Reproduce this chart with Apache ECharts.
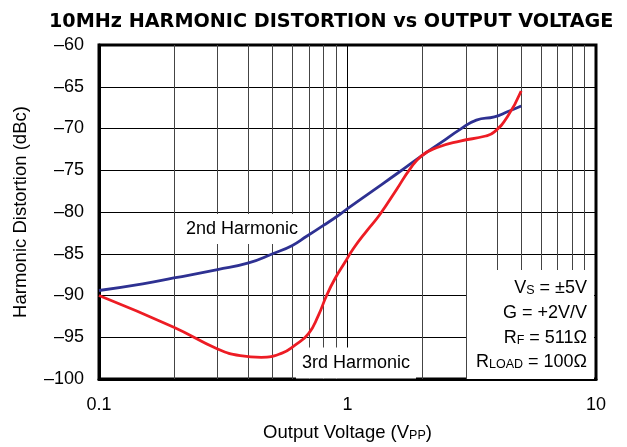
<!DOCTYPE html>
<html>
<head>
<meta charset="utf-8">
<script src="https://cdn.jsdelivr.net/npm/echarts@6/dist/echarts.min.js"></script>
<style>
  html, body { margin: 0; padding: 0; background: #fff; }
  #main { width: 627px; height: 447px; }
</style>
</head>
<body>
<div id="main"></div>
<script>
var font = 'Liberation Sans, Arial, sans-serif';

// output voltage (Vpp) / distortion (dBc)
var h2Volts = [0.1, 0.15, 0.2, 0.3, 0.4, 0.5, 0.6, 0.685, 0.8, 0.9, 1.0, 1.23, 1.6, 1.98, 2.4, 2.84, 3.3, 3.9, 4.4, 5.0];
var h2Dbc   = [-89.4, -88.6, -87.9, -86.9, -86.1, -85.0, -84.0, -82.9, -81.6, -80.6, -79.6, -77.7, -75.3, -73.3, -71.6, -70.1, -69.0, -68.6, -68.0, -67.3];

var h3Volts = [0.1, 0.2, 0.3, 0.37, 0.45, 0.545, 0.615, 0.697, 0.763, 0.824, 0.89, 0.978, 1.055, 1.2, 1.35, 1.576, 1.78, 1.98, 2.28, 2.84, 3.6, 3.9, 4.4, 5.0];
var h3Dbc   = [-90.0, -93.8, -96.4, -97.2, -97.4, -96.9, -95.95, -94.56, -92.4, -90.0, -88.0, -86.0, -84.4, -82.2, -80.3, -77.3, -74.9, -73.3, -72.3, -71.5, -70.9, -70.4, -68.6, -65.5];

// vertical log grid lines
var xGrid = [0.2, 0.3, 0.4, 0.5, 0.6, 0.7, 0.8, 0.9, 2, 3, 4, 5, 6, 7, 8, 9];

function pairs(xs, ys) {
    var out = [];
    for (var i = 0; i < xs.length; i++) out.push([xs[i], ys[i]]);
    return out;
}

var myChart = echarts.init(document.getElementById('main'));

var option = {
    animation: false,
    backgroundColor: '#fff',
    title: {
        text: '10MHz HARMONIC DISTORTION vs OUTPUT VOLTAGE',
        left: 44,
        top: 8,
        textStyle: { fontFamily: 'DejaVu Sans, sans-serif', fontWeight: 'bold', fontSize: 19.2, color: '#000' }
    },
    grid: {
        left: 99, right: 31, top: 45, bottom: 66,
        show: true, borderColor: '#000', borderWidth: 3
    },
    xAxis: {
        type: 'log',
        logBase: 10,
        min: 0.1,
        max: 10,
        name: '{a|Output Voltage (V}{s|PP}{a|)}',
        nameLocation: 'middle',
        nameGap: 41,
        nameTextStyle: {
            rich: {
                a: { fontFamily: font, fontSize: 18.5, color: '#000', lineHeight: 22, verticalAlign: 'bottom' },
                s: { fontFamily: font, fontSize: 12.5, color: '#000', lineHeight: 13, verticalAlign: 'bottom' }
            }
        },
        axisLine: { show: true, lineStyle: { color: '#000', width: 3 } },
        axisTick: { show: false },
        axisLabel: {
            fontFamily: font, fontSize: 18, color: '#000', margin: 17,
            formatter: function (v) { return String(v); }
        },
        splitLine: { show: true, lineStyle: { color: '#000', width: 1 } }
    },
    yAxis: {
        type: 'value',
        min: -100,
        max: -60,
        interval: 5,
        name: 'Harmonic Distortion (dBc)',
        nameLocation: 'middle',
        nameGap: 69,
        nameTextStyle: { fontFamily: font, fontSize: 18.5, color: '#000' },
        axisLine: { show: true, lineStyle: { color: '#000', width: 3 } },
        axisTick: { show: false },
        axisLabel: {
            fontFamily: font, fontSize: 18, color: '#000', margin: 15,
            formatter: function (v) { return String(v).replace('-', '\u2013'); }
        },
        splitLine: { show: true, lineStyle: { color: '#000', width: 1 } }
    },
    series: [
        {
            name: 'grid',
            type: 'line',
            data: [],
            silent: true,
            z: 1,
            markLine: {
                silent: true,
                symbol: 'none',
                label: { show: false },
                lineStyle: { color: '#444', width: 1, type: 'solid' },
                data: xGrid.map(function (v) { return { xAxis: v }; })
            }
        },
        {
            name: '2nd Harmonic',
            type: 'line',
            data: pairs(h2Volts, h2Dbc),
            smooth: 0.5,
            showSymbol: false,
            z: 8,
            lineStyle: { color: '#2e3192', width: 2.8 }
        },
        {
            name: '3rd Harmonic',
            type: 'line',
            data: pairs(h3Volts, h3Dbc),
            smooth: 0.5,
            showSymbol: false,
            z: 8,
            lineStyle: { color: '#ed1c24', width: 2.8 }
        }
    ],
    graphic: [
        {
            type: 'text', z: 6,
            style: {
                text: '2nd Harmonic', x: 242, y: 229,
                align: 'center', verticalAlign: 'middle',
                font: '18px ' + font, fill: '#000',
                backgroundColor: '#fff', padding: [6, 5, 6, 5]
            }
        },
        {
            type: 'text', z: 6,
            style: {
                text: '3rd Harmonic', x: 356, y: 363,
                align: 'center', verticalAlign: 'middle',
                font: '18px ' + font, fill: '#000',
                backgroundColor: '#fff', padding: [7, 6, 6, 6]
            }
        },
        {
            type: 'rect', z: 6,
            shape: { x: 467, y: 270, width: 127, height: 109 },
            style: { fill: '#fff' }
        },
        {
            type: 'text', z: 7,
            style: {
                text: '{a|V}{s|S}{a| = \u00b15V}\n{a|G = +2V/V}\n{a|R}{s|F}{a| = 511\u03a9}\n{a|R}{s|LOAD}{a| = 100\u03a9}',
                x: 587, y: 272.5,
                align: 'right', verticalAlign: 'top',
                rich: {
                    a: { fontFamily: font, fontSize: 18, fill: '#000', lineHeight: 24.7, verticalAlign: 'bottom' },
                    s: { fontFamily: font, fontSize: 12.5, fill: '#000', lineHeight: 15, verticalAlign: 'bottom' }
                }
            }
        }
    ]
};

myChart.setOption(option);
</script>
</body>
</html>
